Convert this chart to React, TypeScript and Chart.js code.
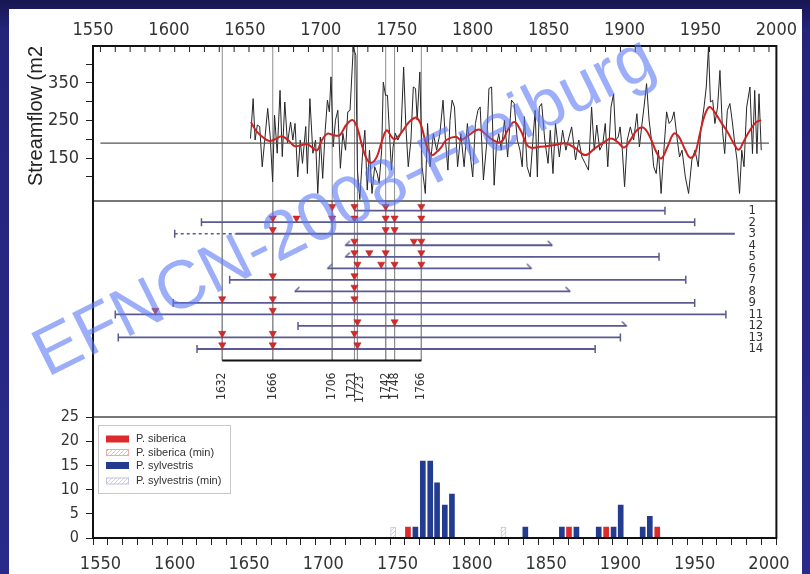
import React, { useEffect, useRef } from 'react';
import { Chart, registerables } from 'chart.js';

Chart.register(...registerables);

const NARROW = "'Liberation Sans Narrow', 'Arial Narrow', 'DejaVu Sans Condensed', 'Liberation Sans', Arial, sans-serif";
const REGULAR = "'Liberation Sans', Arial, sans-serif";

const X_MIN = 1550;
const X_MAX = 2000;
const yearLabels = [1550, 1600, 1650, 1700, 1750, 1800, 1850, 1900, 1950, 2000];

// ---------- top panel: streamflow (year, value) ----------
const flowSeries: [number, number][] = [
  [1651, 202], [1652.8, 308], [1654.1, 198], [1655.6, 238], [1657.2, 234], [1658.9, 127], [1660.6, 198], [1662.6, 282],
  [1664.3, 206], [1665.9, 87], [1667.2, 264], [1669, 163], [1670.9, 330], [1672.4, 154], [1674.1, 299], [1675.9, 190],
  [1678, 246], [1679.5, 198], [1681, 242], [1682.8, 100], [1684.5, 198], [1686, 136], [1688.2, 234], [1689.3, 109],
  [1691, 308], [1693, 163], [1694.8, 198], [1696.3, 56], [1698, 206], [1699.6, 96], [1701.3, 224], [1702.8, 304],
  [1704.1, 273], [1705.2, 366], [1706.7, 180], [1708.2, 251], [1709.8, 277], [1711.5, 123], [1713.2, 216], [1715, 171],
  [1716.5, 273], [1718, 277], [1720.2, 445], [1721.9, 423], [1723, 118], [1724.6, 40], [1726.3, 153], [1728, 224],
  [1729.6, 65], [1731.1, 171], [1732.8, 56], [1734.6, 127], [1736.3, 109], [1737.6, 83], [1739.3, 171], [1740.4, 352],
  [1741.9, 317], [1743.2, 317], [1744.8, 198], [1745.9, 118], [1747, 180], [1748.5, 216], [1750.2, 198], [1752.3, 216],
  [1754.1, 392], [1755.6, 233], [1757.2, 127], [1759, 198], [1760.6, 339], [1762.1, 335], [1763.2, 251], [1765, 379],
  [1766.5, 127], [1768.7, 56], [1770.2, 242], [1771.9, 127], [1774.1, 215], [1776.3, 171], [1778.5, 215], [1780.6, 304],
  [1782.2, 200], [1783.9, 118], [1785.3, 250], [1786.7, 304], [1788.3, 286], [1790.4, 127], [1792.6, 215], [1794.8, 127],
  [1797, 242], [1799.1, 153], [1800.6, 100], [1802.4, 242], [1804.1, 277], [1805.6, 286], [1807.8, 92], [1810, 189],
  [1811.5, 335], [1813.3, 339], [1815, 78], [1816.5, 180], [1818.1, 215], [1819.8, 171], [1822, 251], [1824.1, 153],
  [1826.7, 304], [1828.5, 295], [1830.6, 198], [1832.4, 171], [1833.9, 127], [1835.4, 260], [1837.2, 127], [1839.3, 100],
  [1841.1, 198], [1842.6, 277], [1844.1, 100], [1845.4, 286], [1847, 295], [1849.1, 198], [1851.3, 136], [1852.8, 224],
  [1854.6, 109], [1856.3, 242], [1858.9, 153], [1861.1, 224], [1863.3, 171], [1865.4, 206], [1867.2, 233], [1869.8, 145],
  [1872, 198], [1874.1, 153], [1876.3, 136], [1878.5, 118], [1880.6, 286], [1882.4, 171], [1884.1, 238], [1886.1, 171],
  [1888.2, 189], [1889.8, 242], [1891.5, 127], [1893.7, 286], [1895.4, 321], [1896.9, 198], [1898.5, 206], [1899.8, 233],
  [1901.3, 171], [1902.8, 74], [1904.6, 198], [1906.7, 233], [1908.9, 198], [1911.1, 268], [1912.8, 180], [1914.3, 233],
  [1915.9, 286], [1917.6, 348], [1919.3, 251], [1920.9, 198], [1922.4, 127], [1924.1, 109], [1925.6, 171], [1927.4, 56],
  [1928.5, 127], [1931.1, 273], [1932.8, 242], [1934.6, 251], [1936.1, 273], [1938.3, 198], [1939.8, 153], [1941.5, 171],
  [1943.7, 100], [1945.9, 56], [1948.1, 145], [1950.2, 171], [1952.4, 127], [1954.1, 224], [1956.3, 286], [1957.8, 339],
  [1959.3, 445], [1960.6, 299], [1962.1, 304], [1963.6, 242], [1965.4, 286], [1967, 383], [1968.7, 224], [1970.2, 162],
  [1972, 277], [1973.7, 295], [1975.2, 251], [1976.7, 198], [1978.5, 145], [1980.2, 56], [1981.7, 171], [1983.2, 127],
  [1985, 286], [1987.2, 339], [1988.9, 162], [1990.4, 330], [1991.9, 162], [1993.3, 321], [1994.8, 171],
];

const smoothSeries: [number, number][] = [
  [1651.3, 246], [1654.6, 224], [1658.9, 207], [1663.2, 196], [1667.6, 200], [1671.9, 208], [1676.3, 198], [1680.6, 182],
  [1684.9, 184], [1689.3, 187], [1692.6, 178], [1695.9, 171], [1699.1, 198], [1702.8, 215], [1706.7, 211], [1711.1, 211],
  [1715.4, 238], [1719.8, 251], [1723, 229], [1726.3, 180], [1729.6, 145], [1732.8, 138], [1736.1, 154], [1739.3, 193],
  [1742.6, 224], [1745.9, 207], [1748, 200], [1751.3, 211], [1754.6, 229], [1757.8, 246], [1762.2, 258], [1764.3, 251],
  [1766.5, 229], [1769.8, 180], [1773, 158], [1776.3, 166], [1779.6, 180], [1782.8, 198], [1789.3, 207], [1792.6, 198],
  [1798, 211], [1804.6, 226], [1810, 211], [1814.3, 198], [1819.8, 193], [1824.1, 224], [1828.5, 246], [1832.8, 224],
  [1838.3, 180], [1845.9, 180], [1854.6, 184], [1863.3, 189], [1869.8, 176], [1876.3, 158], [1882.8, 176], [1889.3, 193],
  [1893.7, 202], [1898, 193], [1902.4, 178], [1906.7, 198], [1911.1, 224], [1915.4, 231], [1919.8, 207], [1924.1, 167],
  [1927.4, 149], [1931.7, 180], [1935.9, 215], [1939.3, 207], [1943.7, 171], [1947, 151], [1950.2, 162], [1953.5, 215],
  [1956.7, 264], [1960, 286], [1963.3, 273], [1967.6, 246], [1972, 220], [1976.3, 189], [1979.6, 172], [1982.8, 193],
  [1987.2, 224], [1991.5, 246], [1994.8, 251],
];

const flowMean = 190;
const flowMin = 36;
const flowMax = 448;
const flowTicks = [100, 150, 200, 250, 300, 350, 400];
const flowLabelled = [150, 250, 350];

// ---------- middle panel: tree records ----------
const eventYears = [1632, 1666, 1706, 1721, 1723, 1742, 1748, 1766];
const eventLabels = ['1632', '1666', '1706', '1721', '1723', '1742', '1748', '1766'];
const rowLabels = ['1', '2', '3', '4', '5', '6', '7', '8', '9', '11', '12', '13', '14'];
const rowStart = [1721, 1618, 1641, 1715, 1715, 1703, 1637, 1681, 1599, 1560, 1683, 1562, 1615];
const rowEnd = [1930, 1950, 1977, 1854, 1926, 1840, 1944, 1866, 1950, 1971, 1904, 1900, 1883];
const rowStartCap = ['none', 'bar', 'none', 'hook', 'hook', 'hook', 'bar', 'hook', 'bar', 'bar', 'bar', 'bar', 'bar'];
const rowEndCap = ['bar', 'bar', 'none', 'hook', 'bar', 'hook', 'bar', 'hook', 'bar', 'bar', 'hook', 'bar', 'bar'];
const dashedRow = 3;
const dashedFrom = 1600;
const dashedTo = 1641;
const scarYears: number[][] = [
  [1706, 1721, 1742, 1766],
  [1666, 1682, 1706, 1721, 1742, 1748, 1766],
  [1666, 1742, 1748],
  [1721, 1761, 1766],
  [1721, 1731, 1742, 1766],
  [1723, 1739, 1748, 1766],
  [1666, 1721],
  [1721],
  [1632, 1666, 1721],
  [1587, 1666],
  [1723, 1748],
  [1632, 1666, 1721],
  [1632, 1666, 1723],
];
const summaryFrom = 1632;
const summaryTo = 1766;

// ---------- bottom panel: counts ----------
const sibericaBars: [number, number][] = [[1757, 2.27], [1865.4, 2.27], [1890.4, 2.27], [1924.8, 2.27]];
const sibericaMinBars: [number, number][] = [];
const sylvestrisBars: [number, number][] = [
  [1762, 2.27], [1767, 15.9], [1772, 15.9], [1776.6, 11.4], [1781.8, 6.8], [1786.6, 9.1], [1836, 2.27], [1860.6, 2.27],
  [1870.4, 2.27], [1885.4, 2.27], [1895.4, 2.27], [1900.2, 6.8], [1915, 2.27], [1919.8, 4.5],
];
const sylvestrisMinBars: [number, number][] = [[1747, 2.27], [1821.3, 2.27]];
const legendNames = ['P. siberica', 'P. siberica (min)', 'P. sylvestris', 'P. sylvestris (min)'];
const countTicks = [0, 5, 10, 15, 20, 25];

// ---------- style ----------
const RED = '#dd2a2a';
const BLUE = '#243c90';
const ROW = '#5a5a92';
const PINK = '#f0a8a8';
const LAVENDER = '#c4c4e4';
const LABEL_NUDGE: Record<number, [number, number]> = { 1721: [-3, -1], 1723: [2, 3] };
const TRI_OFFSET = 0.35;

function makeHook(dir: number, color: string) {
  const c = document.createElement('canvas');
  c.width = 12;
  c.height = 12;
  const g = c.getContext('2d')!;
  g.strokeStyle = color;
  g.lineWidth = 1.4;
  g.lineCap = 'round';
  g.beginPath();
  g.moveTo(6, 6);
  g.lineTo(6 + dir * 4, 2);
  g.stroke();
  return c;
}

function makeHatch(color: string) {
  const c = document.createElement('canvas');
  c.width = 4;
  c.height = 4;
  const g = c.getContext('2d')!;
  g.fillStyle = '#fff';
  g.fillRect(0, 0, 4, 4);
  g.strokeStyle = color;
  g.lineWidth = 0.8;
  g.beginPath();
  g.moveTo(0, 4);
  g.lineTo(4, 0);
  g.stroke();
  return g.createPattern(c, 'repeat')!;
}

const pairs = (a: [number, number][]) => a.map(([x, y]) => ({ x, y }));

const decorPlugin = {
  id: 'decor',
  afterDatasetsDraw(chart: any) {
    const { ctx, chartArea: ca, scales } = chart;
    const xs = scales.x;
    const yMid = scales.yMid;
    const yBars = scales.yBars;
    ctx.save();
    // panel separators
    ctx.strokeStyle = '#4a4a4a';
    ctx.lineWidth = 1.5;
    [yMid.top, yMid.bottom].forEach((y: number) => {
      ctx.beginPath();
      ctx.moveTo(ca.left, y);
      ctx.lineTo(ca.right, y);
      ctx.stroke();
    });
    // frame
    ctx.strokeStyle = '#111';
    ctx.lineWidth = 2;
    ctx.strokeRect(ca.left, ca.top, ca.right - ca.left, ca.bottom - ca.top);
    // inward ticks along the top
    ctx.lineWidth = 1;
    ctx.strokeStyle = '#222';
    for (let v = X_MIN; v <= X_MAX; v += 10) {
      const px = xs.getPixelForValue(v);
      ctx.beginPath();
      ctx.moveTo(px, ca.top);
      ctx.lineTo(px, ca.top + 6);
      ctx.stroke();
    }
    // row labels
    ctx.fillStyle = '#333';
    ctx.font = `13px ${NARROW}`;
    ctx.textAlign = 'left';
    ctx.textBaseline = 'middle';
    rowLabels.forEach((lab, i) => {
      ctx.fillText(lab, ca.right - 28, yMid.getPixelForValue(i + 1));
    });
    // event year labels (rotated)
    ctx.font = `12px ${NARROW}`;
    ctx.textAlign = 'right';
    const yl = yMid.getPixelForValue(rowLabels.length + 1) + 12;
    eventYears.forEach((yr, i) => {
      const [dx, dy] = LABEL_NUDGE[yr] || [0, 0];
      ctx.save();
      ctx.translate(xs.getPixelForValue(yr) + dx, yl + dy);
      ctx.rotate(-Math.PI / 2);
      ctx.fillText(eventLabels[i], 0, 0);
      ctx.restore();
    });
    // legend
    const bx = ca.left + 5;
    const by = yBars.top + 8;
    ctx.fillStyle = '#fff';
    ctx.fillRect(bx, by, 132, 68);
    ctx.strokeStyle = '#c8c8c8';
    ctx.lineWidth = 1;
    ctx.strokeRect(bx + 0.5, by + 0.5, 132, 68);
    const rows = [14, 27.5, 40.5, 56];
    const fills: any[] = [RED, chart.$hatchPink, BLUE, chart.$hatchLav];
    const borders = [RED, PINK, BLUE, LAVENDER];
    ctx.font = `11px ${REGULAR}`;
    ctx.textAlign = 'left';
    rows.forEach((dy, i) => {
      ctx.fillStyle = fills[i];
      ctx.fillRect(bx + 8, by + dy - 3.5, 23, 7);
      if (i % 2 === 1) {
        ctx.strokeStyle = borders[i];
        ctx.strokeRect(bx + 8.5, by + dy - 3, 22, 6);
      }
      ctx.fillStyle = '#333';
      ctx.fillText(legendNames[i], bx + 38, by + dy);
    });
    ctx.restore();
  },
  afterDraw(chart: any) {
    const { ctx } = chart;
    ctx.save();
    ctx.translate(336, 199);
    ctx.rotate((-26.5 * Math.PI) / 180);
    ctx.font = `68px ${REGULAR}`;
    ctx.fillStyle = 'rgba(90,120,245,0.6)';
    ctx.textAlign = 'center';
    ctx.textBaseline = 'middle';
    ctx.fillText('EFNCN-2008-Freiburg', 0, 0);
    ctx.restore();
  },
};

export default function App() {
  const ref = useRef<HTMLCanvasElement>(null);

  useEffect(() => {
    document.body.style.margin = '0';
    const canvas = ref.current!;
    const hookL = makeHook(1, ROW);
    const hookR = makeHook(-1, ROW);
    const hatchPink = makeHatch(PINK);
    const hatchLav = makeHatch(LAVENDER);

    const cap = (kind: string, side: string) => {
      if (kind === 'bar') return { s: 'line', r: 4, rot: 90 };
      if (kind === 'hook') return { s: side === 'start' ? hookL : hookR, r: 4, rot: 0 };
      return { s: 'circle', r: 0, rot: 0 };
    };

    const datasets: any[] = [];

    // vertical event lines (top + middle panels)
    datasets.push({
      type: 'line', xAxisID: 'x', yAxisID: 'yTop', order: 20,
      data: eventYears.flatMap((yr) => [{ x: yr, y: flowMin }, { x: yr, y: flowMax }, { x: yr, y: null }]),
      borderColor: '#8e8e8e', borderWidth: 1, pointRadius: 0, spanGaps: false,
    });
    datasets.push({
      type: 'line', xAxisID: 'x', yAxisID: 'yMid', order: 20,
      data: eventYears.flatMap((yr) => [{ x: yr, y: 0.16 }, { x: yr, y: rowLabels.length + 1 }, { x: yr, y: null }]),
      borderColor: '#8e8e8e', borderWidth: 1, pointRadius: 0, spanGaps: false,
    });

    // streamflow
    datasets.push({
      type: 'line', xAxisID: 'x', yAxisID: 'yTop', order: 6,
      data: pairs(flowSeries), borderColor: '#262626', borderWidth: 1, pointRadius: 0, tension: 0,
    });
    datasets.push({
      type: 'line', xAxisID: 'x', yAxisID: 'yTop', order: 5,
      data: [{ x: X_MIN, y: flowMean }, { x: X_MAX, y: flowMean }],
      borderColor: '#555', borderWidth: 1.3, pointRadius: 0,
    });
    datasets.push({
      type: 'line', xAxisID: 'x', yAxisID: 'yTop', order: 4,
      data: pairs(smoothSeries), borderColor: '#cc2222', borderWidth: 2, pointRadius: 0, tension: 0.4,
    });

    // tree rows
    rowLabels.forEach((_, i) => {
      const a = cap(rowStartCap[i], 'start');
      const b = cap(rowEndCap[i], 'end');
      datasets.push({
        type: 'line', xAxisID: 'x', yAxisID: 'yMid', order: 8,
        data: [{ x: rowStart[i], y: i + 1 }, { x: rowEnd[i], y: i + 1 }],
        borderColor: ROW, borderWidth: 1.8,
        pointStyle: [a.s, b.s], pointRadius: [a.r, b.r], pointRotation: [a.rot, b.rot],
        pointBorderColor: ROW, pointBackgroundColor: ROW, pointBorderWidth: 1.5,
      });
    });
    const dIdx = rowLabels.indexOf(String(dashedRow)) + 1;
    datasets.push({
      type: 'line', xAxisID: 'x', yAxisID: 'yMid', order: 8,
      data: [{ x: dashedFrom, y: dIdx }, { x: dashedTo, y: dIdx }],
      borderColor: ROW, borderWidth: 1.5, borderDash: [3, 3],
      pointStyle: ['line', 'circle'], pointRadius: [4, 0], pointRotation: [90, 0],
      pointBorderColor: ROW, pointBorderWidth: 1.5,
    });
    datasets.push({
      type: 'line', xAxisID: 'x', yAxisID: 'yMid', order: 7,
      data: [{ x: summaryFrom, y: rowLabels.length + 1 }, { x: summaryTo, y: rowLabels.length + 1 }],
      borderColor: '#111', borderWidth: 2, pointRadius: 0,
    });
    // scars (triangles)
    datasets.push({
      type: 'line', xAxisID: 'x', yAxisID: 'yMid', order: 1, showLine: false,
      data: scarYears.flatMap((ys, i) => ys.map((yr) => ({ x: yr, y: i + 1 - TRI_OFFSET }))),
      pointStyle: 'triangle', pointRotation: 180, pointRadius: 4.2,
      pointBackgroundColor: '#d62a2a', pointBorderColor: '#b01c1c', pointBorderWidth: 0.5,
    });

    // bars
    const barBase = { type: 'bar', xAxisID: 'x', yAxisID: 'yBars', barThickness: 5, grouped: false, order: 3 };
    datasets.push({ ...barBase, data: pairs(sibericaBars), backgroundColor: RED, borderWidth: 0 });
    datasets.push({ ...barBase, data: pairs(sibericaMinBars), backgroundColor: hatchPink, borderColor: PINK, borderWidth: 1 });
    datasets.push({ ...barBase, data: pairs(sylvestrisBars), backgroundColor: BLUE, borderWidth: 0 });
    datasets.push({ ...barBase, data: pairs(sylvestrisMinBars), backgroundColor: hatchLav, borderColor: LAVENDER, borderWidth: 1 });

    const tickFont = { family: NARROW, size: 18 };

    const chart: any = new Chart(canvas, {
      type: 'line',
      data: { datasets },
      plugins: [decorPlugin],
      options: {
        responsive: false,
        animation: false,
        events: [],
        layout: { padding: { left: 0, right: 20, top: 0, bottom: 0 } },
        plugins: { legend: { display: false }, tooltip: { enabled: false } },
        scales: {
          x: {
            type: 'linear', position: 'bottom', min: X_MIN, max: X_MAX,
            afterBuildTicks: (s: any) => {
              const t = [];
              for (let v = X_MIN; v <= X_MAX; v += 10) t.push({ value: v });
              s.ticks = t;
            },
            ticks: {
              autoSkip: false, maxRotation: 0, padding: 9, color: '#333', font: tickFont,
              callback: (v: any) => (yearLabels.includes(v) ? String(v) : ''),
            },
            grid: { display: true, drawOnChartArea: false, drawTicks: true, tickLength: 7, color: '#222' },
            border: { display: true, color: '#111', width: 2 },
            afterFit: (s: any) => { s.height = 36; },
          },
          xTop: {
            type: 'linear', position: 'top', min: X_MIN, max: X_MAX,
            afterBuildTicks: (s: any) => { s.ticks = yearLabels.map((v) => ({ value: v })); },
            ticks: { autoSkip: false, maxRotation: 0, padding: 5, color: '#333', font: tickFont, callback: (v: any) => String(v) },
            grid: { display: false, drawTicks: false },
            border: { display: true, color: '#111', width: 2 },
            afterFit: (s: any) => { s.height = 37; },
          },
          yBars: {
            type: 'linear', position: 'left', stack: 'panels', stackWeight: 121, min: 0, max: 25,
            afterBuildTicks: (s: any) => { s.ticks = countTicks.map((v) => ({ value: v })); },
            ticks: { autoSkip: false, color: '#333', font: { family: NARROW, size: 16 }, padding: 7 },
            grid: { drawOnChartArea: false, drawTicks: true, tickLength: 7, color: '#222' },
            border: { display: true, color: '#111', width: 2 },
            afterFit: (s: any) => { s.width = 84; },
          },
          yMid: {
            type: 'linear', position: 'left', stack: 'panels', stackWeight: 216, min: 0.16, max: 18.9, reverse: true,
            ticks: { display: false },
            grid: { display: false },
            border: { display: true, color: '#111', width: 2 },
            afterFit: (s: any) => { s.width = 84; },
          },
          yTop: {
            type: 'linear', position: 'left', stack: 'panels', stackWeight: 155, min: flowMin, max: flowMax,
            afterBuildTicks: (s: any) => { s.ticks = flowTicks.map((v) => ({ value: v })); },
            ticks: {
              autoSkip: false, color: '#333', font: tickFont, padding: 7,
              callback: (v: any) => (flowLabelled.includes(v) ? String(v) : ''),
            },
            grid: { drawOnChartArea: false, drawTicks: true, tickLength: 7, color: '#222' },
            border: { display: true, color: '#111', width: 2 },
            title: {
              display: true, text: 'Streamflow (m2', align: 'end', color: '#222',
              font: { family: REGULAR, size: 20 }, padding: { top: 15, bottom: 0 },
            },
            afterFit: (s: any) => { s.width = 84; },
          },
        },
      } as any,
    } as any);
    chart.$hatchPink = hatchPink;
    chart.$hatchLav = hatchLav;
    chart.draw();

    return () => chart.destroy();
  }, []);

  return (
    <div
      style={{
        position: 'relative', width: 810, height: 574, overflow: 'hidden',
        background: 'linear-gradient(180deg, #161652 0px, #24247a 30px, #2a2a8a 100%)',
      }}
    >
      <div style={{ position: 'absolute', left: 9, top: 9, width: 793, height: 565, background: '#fff' }}>
        <canvas ref={ref} width={793} height={565} style={{ display: 'block', width: 793, height: 565 }} />
      </div>
    </div>
  );
}
